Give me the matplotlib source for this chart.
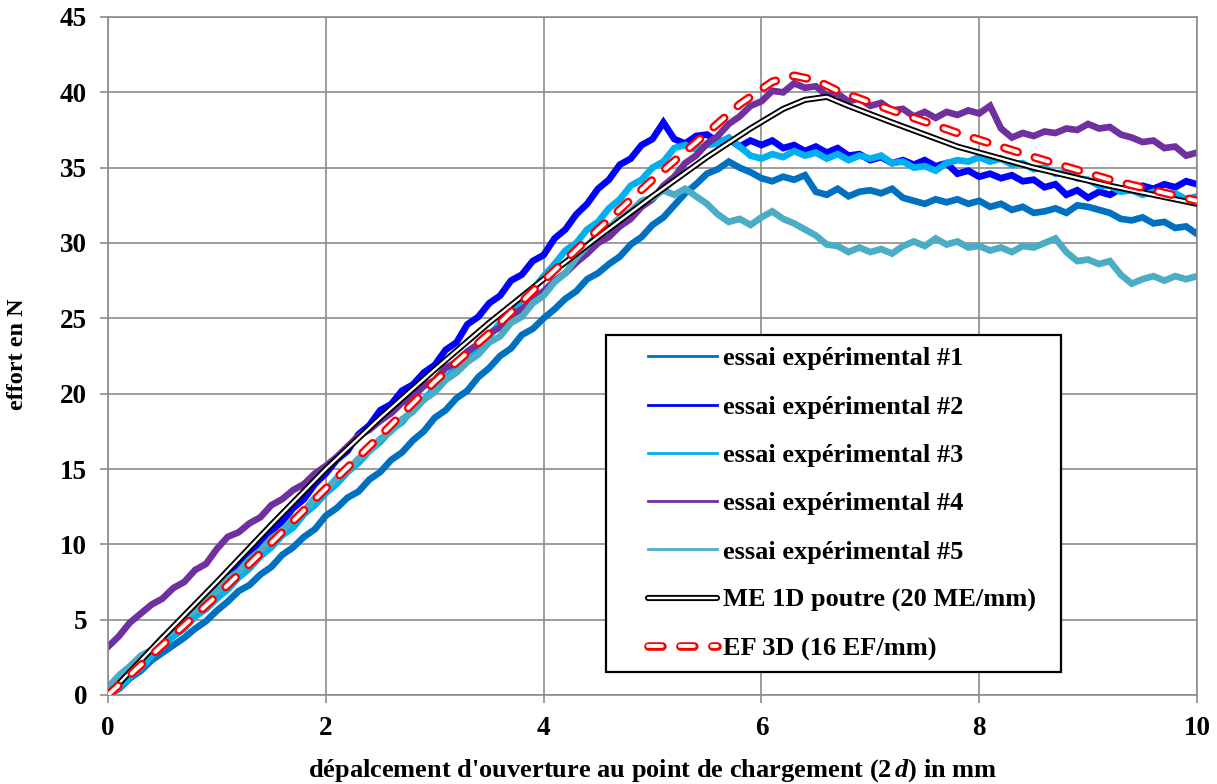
import matplotlib
matplotlib.use('Agg')
import matplotlib.pyplot as plt
from matplotlib.lines import Line2D
from matplotlib.patches import Rectangle
import matplotlib.patheffects as pe

plt.rcParams['font.family'] = ['Liberation Serif', 'DejaVu Serif']
plt.rcParams['font.weight'] = 'bold'
plt.rcParams['mathtext.fontset'] = 'custom'
plt.rcParams['mathtext.it'] = 'Liberation Serif:italic:bold'
plt.rcParams['mathtext.rm'] = 'Liberation Serif:bold'
plt.rcParams['lines.scale_dashes'] = False

# ---------------- data ----------------
x_exp = [0.0, 0.1, 0.2, 0.3, 0.4, 0.5, 0.6, 0.7, 0.8, 0.9,
         1.0, 1.1, 1.2, 1.3, 1.4, 1.5, 1.6, 1.7, 1.8, 1.9,
         2.0, 2.1, 2.2, 2.3, 2.4, 2.5, 2.6, 2.7, 2.8, 2.9,
         3.0, 3.1, 3.2, 3.3, 3.4, 3.5, 3.6, 3.7, 3.8, 3.9,
         4.0, 4.1, 4.2, 4.3, 4.4, 4.5, 4.6, 4.7, 4.8, 4.9,
         5.0, 5.1, 5.2, 5.3, 5.4, 5.5, 5.6, 5.7, 5.8, 5.9,
         6.0, 6.1, 6.2, 6.3, 6.4, 6.5, 6.6, 6.7, 6.8, 6.9,
         7.0, 7.1, 7.2, 7.3, 7.4, 7.5, 7.6, 7.7, 7.8, 7.9,
         8.0, 8.1, 8.2, 8.3, 8.4, 8.5, 8.6, 8.7, 8.8, 8.9,
         9.0, 9.1, 9.2, 9.3, 9.4, 9.5, 9.6, 9.7, 9.8, 9.9, 10.0]

essai1 = [0.0, 0.4, 1.1, 1.6, 2.3, 2.8, 3.3, 3.8, 4.4, 4.9,
          5.6, 6.2, 6.9, 7.3, 8.0, 8.5, 9.3, 9.8, 10.5, 11.0,
          11.9, 12.4, 13.1, 13.5, 14.3, 14.8, 15.6, 16.1, 16.9, 17.5,
          18.4, 18.9, 19.7, 20.2, 21.1, 21.7, 22.5, 23.0, 23.9, 24.3,
          25.0, 25.6, 26.3, 26.8, 27.6, 28.0, 28.6, 29.1, 29.9, 30.4,
          31.2, 31.7, 32.5, 33.3, 33.9, 34.6, 34.9, 35.4, 35.0, 34.7,
          34.3, 34.1, 34.4, 34.2, 34.5, 33.4, 33.2, 33.6, 33.1, 33.4,
          33.5, 33.3, 33.6, 33.0, 32.8, 32.6, 32.9, 32.7, 32.9, 32.6,
          32.8, 32.4, 32.6, 32.2, 32.4, 32.0, 32.1, 32.3, 32.0, 32.5,
          32.4, 32.2, 32.0, 31.6, 31.5, 31.7, 31.3, 31.4, 31.0, 31.1, 30.6]

essai2 = [0.0, 0.6, 1.3, 2.2, 2.8, 3.6, 4.2, 5.1, 5.6, 6.5,
          7.1, 7.9, 8.5, 9.4, 10.0, 10.9, 11.5, 12.4, 13.0, 14.0,
          14.7, 15.6, 16.2, 17.3, 17.9, 18.9, 19.3, 20.2, 20.6, 21.4,
          21.9, 22.9, 23.4, 24.6, 25.1, 26.0, 26.5, 27.5, 27.9, 28.8,
          29.2, 30.3, 30.9, 31.9, 32.6, 33.6, 34.2, 35.2, 35.6, 36.5,
          36.9, 38.0, 36.9, 36.6, 37.1, 37.2, 36.7, 36.9, 36.4, 36.8,
          36.5, 36.8, 36.3, 36.5, 36.1, 36.4, 36.0, 36.3, 35.8, 35.9,
          35.5, 35.7, 35.3, 35.5, 35.2, 35.5, 35.1, 35.3, 34.6, 34.8,
          34.4, 34.6, 34.3, 34.5, 34.1, 34.2, 33.7, 33.9, 33.2, 33.5,
          33.0, 33.4, 33.2, 33.6, 33.5, 33.8, 33.6, 33.9, 33.7, 34.1, 33.9]

essai3 = [0.0, 0.5, 1.2, 1.8, 2.6, 3.2, 3.9, 4.4, 5.2, 5.7,
          6.4, 7.0, 7.8, 8.4, 9.2, 9.8, 10.6, 11.1, 12.0, 12.6,
          13.4, 14.0, 14.8, 15.4, 16.2, 16.8, 17.6, 18.1, 19.0, 19.6,
          20.4, 21.0, 21.8, 22.3, 23.2, 23.8, 24.7, 25.3, 26.3, 26.9,
          27.8, 28.6, 29.5, 30.0, 30.9, 31.4, 32.3, 32.9, 33.8, 34.2,
          35.0, 35.4, 36.3, 36.5, 36.2, 36.5, 36.6, 37.0, 36.4, 35.8,
          35.6, 35.9, 35.7, 36.1, 35.8, 36.0, 35.6, 35.9, 35.5, 35.8,
          35.6, 35.8, 35.3, 35.4, 35.0, 35.1, 34.8, 35.3, 35.5, 35.4,
          35.7, 35.4, 35.6, 35.2, 35.3, 34.9, 35.0, 34.6, 34.7, 34.3,
          34.2, 33.8, 33.8, 33.4, 33.5, 33.2, 33.4, 33.1, 33.3, 32.9, 33.1]

essai4 = [3.2, 3.9, 4.8, 5.4, 6.0, 6.4, 7.1, 7.5, 8.3, 8.7,
          9.7, 10.5, 10.8, 11.4, 11.8, 12.6, 13.0, 13.6, 14.0, 14.7,
          15.2, 15.8, 16.5, 17.2, 17.6, 18.2, 18.7, 19.4, 19.8, 20.5,
          20.9, 21.7, 22.1, 22.8, 23.3, 24.0, 24.4, 25.2, 25.6, 26.3,
          26.8, 27.5, 28.0, 28.7, 29.3, 30.0, 30.4, 31.1, 31.6, 32.4,
          32.9, 33.8, 34.4, 35.3, 35.8, 36.6, 37.1, 37.9, 38.4, 39.1,
          39.4, 40.1, 40.0, 40.6, 40.3, 40.4, 39.8, 39.9, 39.4, 39.6,
          39.1, 39.3, 38.8, 38.9, 38.4, 38.7, 38.3, 38.7, 38.5, 38.8,
          38.6, 39.1, 37.6, 37.0, 37.3, 37.1, 37.4, 37.3, 37.6, 37.5,
          37.9, 37.6, 37.7, 37.2, 37.0, 36.7, 36.8, 36.3, 36.4, 35.8, 36.0]

essai5 = [0.5, 1.3, 1.9, 2.6, 3.0, 3.8, 4.3, 5.1, 5.6, 6.4,
          6.9, 7.7, 8.2, 9.0, 9.6, 10.4, 10.9, 11.7, 12.2, 13.1,
          13.6, 14.4, 14.9, 15.7, 16.2, 17.0, 17.5, 18.3, 18.8, 19.6,
          20.1, 20.9, 21.4, 22.1, 22.6, 23.4, 23.8, 24.7, 25.1, 26.0,
          26.5, 27.4, 28.0, 29.0, 29.8, 30.6, 31.0, 31.7, 32.1, 32.8,
          33.0, 33.5, 33.2, 33.6, 33.1, 32.6, 31.9, 31.4, 31.6, 31.2,
          31.7, 32.1, 31.6, 31.3, 30.9, 30.5, 29.9, 29.8, 29.4, 29.7,
          29.4, 29.6, 29.3, 29.8, 30.1, 29.8, 30.3, 29.9, 30.1, 29.7,
          29.8, 29.5, 29.7, 29.4, 29.8, 29.7, 30.0, 30.3, 29.4, 28.8,
          28.9, 28.6, 28.8, 27.9, 27.3, 27.6, 27.8, 27.5, 27.8, 27.6, 27.8]

x_me = [0.0, 0.5, 1.0, 1.5, 2.0, 2.5, 3.0, 3.5, 4.0, 4.5, 5.0, 5.5,
        5.9, 6.2, 6.4, 6.6, 6.8, 7.2, 7.8, 8.5, 9.2, 10.0]
y_me = [0.0, 3.8, 7.5, 11.3, 15.0, 18.4, 21.6, 24.7, 27.6, 30.4, 33.1, 35.7,
        37.6, 38.9, 39.5, 39.7, 39.1, 38.0, 36.4, 35.0, 33.8, 32.6]

x_ef = [0.0, 0.5, 1.0, 1.5, 2.0, 2.5, 3.0, 3.5, 4.0, 4.5, 5.0, 5.5,
        5.8, 6.1, 6.3, 6.5, 6.7, 7.2, 7.8, 8.5, 9.2, 10.0]
y_ef = [0.0, 3.3, 6.6, 10.1, 13.7, 17.2, 20.8, 24.0, 27.5, 30.9, 34.2, 37.3,
        39.2, 40.7, 41.1, 40.8, 40.1, 38.8, 37.3, 35.7, 34.2, 32.8]

labels = ['essai expérimental #1', 'essai expérimental #2', 'essai expérimental #3',
          'essai expérimental #4', 'essai expérimental #5',
          'ME 1D poutre (20 ME/mm)', 'EF 3D (16 EF/mm)']
colors = ['#0070C0', '#0000FF', '#00B0F0', '#7030A0', '#4BACC6']
x_ticks = [0, 2, 4, 6, 8, 10]
y_ticks = [0, 5, 10, 15, 20, 25, 30, 35, 40, 45]

# ---------------- figure ----------------
W, H = 1217, 784
fig = plt.figure(figsize=(W / 100, H / 100), dpi=100)
ax = fig.add_axes([108 / W, 1 - 695 / H, (1197 - 108) / W, (695 - 17) / H])

grid_c = '#8c8c8c'
ax.set_xlim(0, 10)
ax.set_ylim(0, 45)
ax.set_xticks(x_ticks)
ax.set_yticks(y_ticks)
ax.grid(True, color=grid_c, linewidth=1.2, zorder=0)
ax.set_axisbelow(True)
for s in ax.spines.values():
    s.set_color(grid_c)
    s.set_linewidth(1.2)
ax.tick_params(axis='both', direction='out', length=6, width=1.2, color=grid_c,
               labelsize=19.5, pad=9, labelcolor='black')
for lab in ax.get_xticklabels() + ax.get_yticklabels():
    lab.set_fontweight('bold')

series = [essai1, essai2, essai3, essai4, essai5]
for ys, c in zip(series, colors):
    ax.plot(x_exp, ys, color=c, linewidth=4.8, solid_joinstyle='miter', zorder=2)

# ME 1D: black outlined line with white core
ax.plot(x_me, y_me, color='white', linewidth=1.7, zorder=3,
        path_effects=[pe.Stroke(linewidth=4.4, foreground='black'), pe.Normal()])

# EF 3D: red outlined dashes with white core
DASH = [10, 13]
ef_line, = ax.plot(x_ef, y_ef, color='white', linewidth=2.8, zorder=4,
                   dash_capstyle='round', solid_capstyle='round')
ef_line.set_dashes(DASH)
ef_line.set_path_effects([pe.Stroke(linewidth=6.2, foreground='#FF0000'), pe.Normal()])

# legend box
rect = Rectangle((606 / W, 1 - 672 / H), (1061 - 606) / W, (672 - 335) / H,
                 transform=fig.transFigure, facecolor='white', edgecolor='black',
                 linewidth=1.6, zorder=10, clip_on=False)
ax.add_patch(rect)

handles = []
for c in colors:
    handles.append(Line2D([], [], color=c, linewidth=2.0))
h_me = Line2D([], [], color='white', linewidth=1.7, solid_capstyle='round',
              path_effects=[pe.Stroke(linewidth=4.4, foreground='black'), pe.Normal()])
h_ef = Line2D([], [], color='white', linewidth=2.8, dash_capstyle='round')
h_ef.set_dashes(DASH)
h_ef.set_path_effects([pe.Stroke(linewidth=6.2, foreground='#FF0000'), pe.Normal()])
handles += [h_me, h_ef]

leg = ax.legend(handles, labels, loc='center left',
                bbox_to_anchor=(648 / W, 1 - 504 / H), bbox_transform=fig.transFigure,
                frameon=False, borderpad=0, borderaxespad=0,
                handlelength=2.6, handletextpad=0.25, labelspacing=0.94,
                prop={'size': 19, 'weight': 'bold'})
leg.set_zorder(11)

fig.text(653 / W, 1 - 771 / H,
         "dépalcement d'ouverture au point de chargement (2$\\,d$) in mm",
         ha='center', va='center', fontsize=19, fontweight='bold')
fig.text(18 / W, 1 - 354 / H, 'effort en N', rotation=90,
         ha='center', va='center', fontsize=17.5, fontweight='bold')

fig.savefig('out.png', dpi=100)
